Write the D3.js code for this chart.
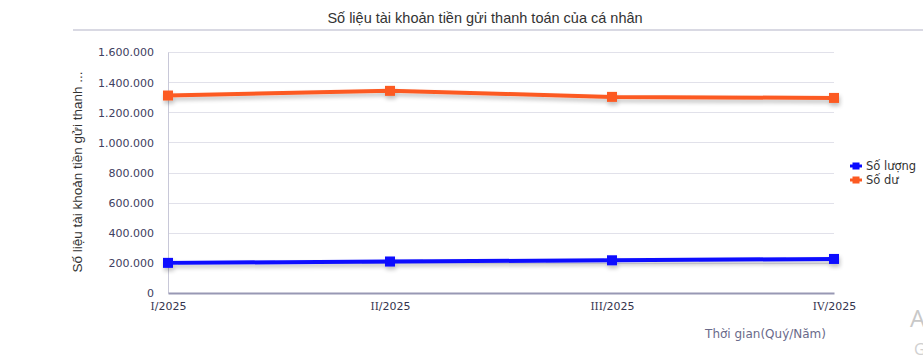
<!DOCTYPE html>
<html><head><meta charset="utf-8">
<script src="https://cdn.jsdelivr.net/npm/d3@7"></script>
<style>body{margin:0;background:#fff}svg{display:block}</style>
</head><body>
<svg id="c" width="923" height="362"></svg>
<script>
const categories = ["I/2025", "II/2025", "III/2025", "IV/2025"];
const soLuong = [200000, 209000, 217000, 226000];
const soDu = [1311000, 1342000, 1302000, 1295000];
const yTicks = [0, 200000, 400000, 600000, 800000, 1000000, 1200000, 1400000, 1600000];
const seriesNames = ["Số lượng", "Số dư"];
const seriesColors = ["#0a0aff", "#fc5a22"];

const svg = d3.select("#c");
const L = 168, R = 834, T = 52, B = 293;
const x = d3.scalePoint().domain(categories).range([L, R]);
const y = d3.scaleLinear().domain([0, 1600000]).range([B, T]);
const fmt = v => d3.format(",")(v).replace(/,/g, ".");

const defs = svg.append("defs");
const f = defs.append("filter").attr("id", "sh").attr("x", "-10%").attr("y", "-100%").attr("width", "120%").attr("height", "400%");
f.append("feGaussianBlur").attr("in", "SourceAlpha").attr("stdDeviation", 2).attr("result", "b");
f.append("feOffset").attr("dx", 1).attr("dy", 3).attr("result", "o");
f.append("feComponentTransfer").append("feFuncA").attr("type", "linear").attr("slope", 0.25);
const m = f.append("feMerge"); m.append("feMergeNode"); m.append("feMergeNode").attr("in", "SourceGraphic");

// title
svg.append("text").attr("x", 485).attr("y", 23).attr("text-anchor", "middle")
  .attr("font-family", "'Liberation Sans', Arial, sans-serif").attr("font-size", 14.5).attr("fill", "#333")
  .text("Số liệu tài khoản tiền gửi thanh toán của cá nhân");
svg.append("line").attr("x1", 73).attr("x2", 923).attr("y1", 30).attr("y2", 30).attr("stroke", "#d9d9e3").attr("stroke-width", 2);

// grid
svg.append("g").selectAll("line").data(yTicks.slice(1)).join("line")
  .attr("x1", L).attr("x2", R).attr("y1", d => Math.round(y(d)) + 0.5).attr("y2", d => Math.round(y(d)) + 0.5)
  .attr("stroke", "#e1e1ea").attr("stroke-width", 1);

// y axis
const ya = svg.append("g").attr("transform", `translate(${L},0)`)
  .call(d3.axisLeft(y).tickValues(yTicks).tickFormat(fmt).tickSize(0).tickPadding(14));
ya.select(".domain").attr("stroke", "#c8c8d8");
ya.selectAll("text").attr("font-family", "'DejaVu Sans', Tahoma, sans-serif").attr("font-size", 11)
  .attr("fill", "#404060").attr("dy", "0.36em");

// x axis
const xa = svg.append("g").attr("transform", `translate(0,${B})`)
  .call(d3.axisBottom(x).tickSize(0).tickPadding(9));
xa.select(".domain").attr("stroke", "#9898b4").attr("stroke-width", 2);
xa.selectAll("text").attr("font-family", "'DejaVu Sans', sans-serif").attr("font-size", 11)
  .attr("fill", "#34344e").text(null)
  .each(function(d) {
    const parts = d.split("/");
    const t = d3.select(this);
    t.append("tspan").attr("font-family", "'DejaVu Serif', serif").attr("font-size", 10.5).text(parts[0]);
    t.append("tspan").text("/" + parts[1]);
  });

// axis titles
svg.append("text").attr("transform", "translate(82,172) rotate(-90)").attr("text-anchor", "middle")
  .attr("font-family", "Arial, 'Liberation Sans', sans-serif").attr("font-size", 13.5).attr("fill", "#333")
  .text("Số liệu tài khoản tiền gửi thanh ...");
svg.append("text").attr("x", 826).attr("y", 338).attr("text-anchor", "end")
  .attr("font-family", "Tahoma, 'DejaVu Sans', sans-serif").attr("font-size", 12).attr("fill", "#6a6a8a")
  .text("Thời gian(Quý/Năm)");

// series
const data = [soLuong, soDu];
const line = d3.line().x((d, i) => x(categories[i])).y(d => y(d));
data.forEach((s, k) => {
  const g = svg.append("g").attr("filter", "url(#sh)");
  g.append("path").attr("d", line(s)).attr("fill", "none").attr("stroke", seriesColors[k]).attr("stroke-width", 4);
  g.selectAll("rect").data(s).join("rect")
    .attr("x", (d, i) => x(categories[i]) - 5).attr("y", d => y(d) - 5)
    .attr("width", 10).attr("height", 10).attr("fill", seriesColors[k]);
});

// legend
seriesNames.forEach((n, k) => {
  const ly = 166 + k * 14;
  svg.append("line").attr("x1", 850).attr("x2", 862).attr("y1", ly).attr("y2", ly)
    .attr("stroke", seriesColors[k]).attr("stroke-width", 3);
  svg.append("rect").attr("x", 852.5).attr("y", ly - 3.5).attr("width", 7).attr("height", 7).attr("fill", seriesColors[k]);
  svg.append("text").attr("x", 866).attr("y", ly + 4)
    .attr("font-family", "Tahoma, 'DejaVu Sans', sans-serif").attr("font-size", 11.5).attr("fill", "#333")
    .text(n);
});

// watermark remnants
svg.append("text").attr("x", 910).attr("y", 327).attr("font-family", "'Open Sans', sans-serif")
  .attr("font-size", 24).attr("fill", "#c8c8c8").text("A");
svg.append("text").attr("x", 914).attr("y", 355).attr("font-family", "'Open Sans', sans-serif")
  .attr("font-size", 16).attr("fill", "#d0d0d0").text("G");
</script>
</body></html>
